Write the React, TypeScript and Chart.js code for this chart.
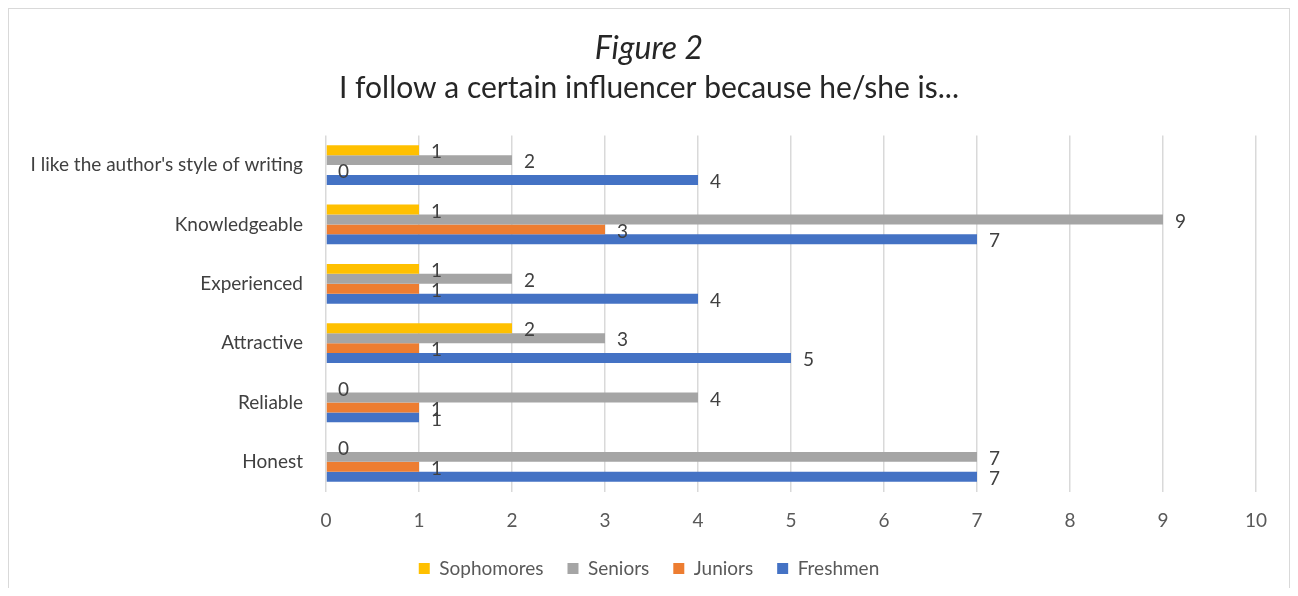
import React, { useEffect, useRef } from "react";
import { Chart, registerables } from "chart.js";

Chart.register(...registerables);

const categories = [
  "I like the author's style of writing",
  "Knowledgeable",
  "Experienced",
  "Attractive",
  "Reliable",
  "Honest",
];
const sophomores = [1, 1, 1, 2, 0, 0];
const seniors = [2, 9, 2, 3, 4, 7];
const juniors = [0, 3, 1, 1, 1, 1];
const freshmen = [4, 7, 4, 5, 1, 7];
const xTicks = [0, 1, 2, 3, 4, 5, 6, 7, 8, 9, 10];

const FONT = "Lato, 'Open Sans', sans-serif";

const valueLabels = {
  id: "valueLabels",
  afterDatasetsDraw(chart: any) {
    const ctx = chart.ctx;
    ctx.save();
    ctx.font = `19px ${FONT}`;
    ctx.fillStyle = "#404040";
    ctx.textAlign = "left";
    ctx.textBaseline = "middle";
    chart.data.datasets.forEach((ds: any, i: number) => {
      const meta = chart.getDatasetMeta(i);
      meta.data.forEach((el: any, j: number) => {
        ctx.fillText(String(ds.data[j]), el.x + 12, el.y + 2);
      });
    });
    ctx.restore();
  },
};

export default function App() {
  const ref = useRef<HTMLCanvasElement>(null);
  useEffect(() => {
    document.body.style.overflow = "hidden";
    const chart = new Chart(ref.current!, {
      type: "bar",
      data: {
        labels: categories,
        datasets: [
          { label: "Sophomores", data: sophomores, backgroundColor: "#FFC000" },
          { label: "Seniors", data: seniors, backgroundColor: "#A5A5A5" },
          { label: "Juniors", data: juniors, backgroundColor: "#ED7D31" },
          { label: "Freshmen", data: freshmen, backgroundColor: "#4472C4" },
        ],
      },
      options: {
        indexAxis: "y",
        animation: false,
        responsive: false,
        maintainAspectRatio: false,
        layout: { padding: { left: 0, right: 0, top: 0, bottom: 0 } },
        datasets: {
          bar: { categoryPercentage: 0.67, barPercentage: 1.0 },
        },
        scales: {
          x: {
            min: 0,
            max: 10,
            afterBuildTicks: (s: any) => {
              s.ticks = xTicks.map((v) => ({ value: v }));
            },
            afterFit: (s: any) => {
              s.height = 43.5;
              s.paddingRight = 33;
            },
            grid: { color: "#d9d9d9", lineWidth: 1.5, drawTicks: false },
            border: { display: false },
            ticks: {
              padding: 18,
              color: "#595959",
              font: { family: FONT, size: 19 },
            },
          },
          y: {
            grid: { display: false, drawTicks: false },
            border: { display: false },
            afterFit: (s: any) => {
              s.width = 317;
            },
            ticks: {
              padding: 23,
              color: "#404040",
              font: { family: FONT, size: 19 },
            },
          },
        },
        plugins: {
          title: {
            display: true,
            text: "Figure 2",
            color: "#262626",
            font: { family: FONT, size: 32, style: "italic", weight: "normal" },
            padding: { top: 20, bottom: 0 },
          },
          subtitle: {
            display: true,
            text: "I follow a certain influencer because he/she is...",
            color: "#262626",
            font: { family: FONT, size: 30, weight: "normal" },
            padding: { top: 3, bottom: 29 },
          },
          legend: {
            position: "bottom",
            labels: {
              boxWidth: 11,
              boxHeight: 11,
              padding: 24,
              color: "#595959",
              font: { family: FONT, size: 19 },
            },
          },
          tooltip: { enabled: false },
        },
      },
      plugins: [valueLabels],
    });
    return () => chart.destroy();
  }, []);
  return (
    <div
      style={{
        width: 1282,
        height: 580,
        boxSizing: "border-box",
        borderTop: "1px solid #d9d9d9",
        borderLeft: "1px solid #d9d9d9",
        borderRight: "1px solid #d9d9d9",
        background: "#fff",
      }}
    >
      <canvas ref={ref} width={1280} height={579} style={{ display: "block" }} />
    </div>
  );
}
